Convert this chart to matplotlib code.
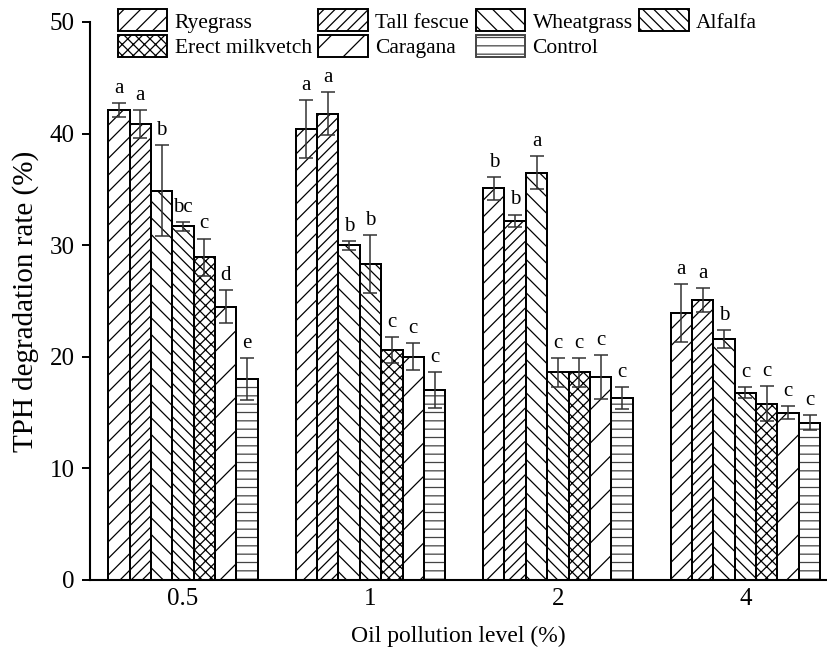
import matplotlib
matplotlib.use('Agg')
import matplotlib.pyplot as plt
import numpy as np

plt.rcParams['font.family'] = ['Liberation Serif', 'DejaVu Serif']
plt.rcParams['hatch.linewidth'] = 0.9

#Data: TPH degradation rate (%) for each plant at each oil pollution level
levels = ['0.5', '1', '2', '4']
plants = ['Ryegrass', 'Tall fescue', 'Wheatgrass', 'Alfalfa',
          'Erect milkvetch', 'Caragana', 'Control']

ryegrass = [42.1, 40.4, 35.1, 23.9]
tall_fescue = [40.9, 41.8, 32.2, 25.1]
wheatgrass = [34.9, 30.0, 36.5, 21.6]
alfalfa = [31.7, 28.3, 18.6, 16.8]
erect_milkvetch = [28.9, 20.6, 18.6, 15.8]
caragana = [24.5, 20.0, 18.2, 15.0]
control = [18.0, 17.0, 16.3, 14.1]

ryegrass_err = [0.6, 2.6, 1.05, 2.6]
tall_fescue_err = [1.25, 1.9, 0.55, 1.05]
wheatgrass_err = [4.1, 0.4, 1.5, 0.8]
alfalfa_err = [0.4, 2.6, 1.3, 0.5]
erect_milkvetch_err = [1.7, 1.2, 1.3, 1.55]
caragana_err = [1.45, 1.2, 1.95, 0.6]
control_err = [1.85, 1.6, 0.95, 0.65]

ryegrass_sig = ['a', 'a', 'b', 'a']
tall_fescue_sig = ['a', 'a', 'b', 'a']
wheatgrass_sig = ['b', 'b', 'a', 'b']
alfalfa_sig = ['bc', 'b', 'c', 'c']
erect_milkvetch_sig = ['c', 'c', 'c', 'c']
caragana_sig = ['d', 'c', 'c', 'c']
control_sig = ['e', 'c', 'c', 'c']

means = [ryegrass, tall_fescue, wheatgrass, alfalfa, erect_milkvetch, caragana, control]
errs = [ryegrass_err, tall_fescue_err, wheatgrass_err, alfalfa_err,
        erect_milkvetch_err, caragana_err, control_err]
sigs = [ryegrass_sig, tall_fescue_sig, wheatgrass_sig, alfalfa_sig,
        erect_milkvetch_sig, caragana_sig, control_sig]
hatches = ['//', '///', '\\\\', '\\\\\\', 'xxx', '/', '--']

fig = plt.figure(figsize=(8.28, 6.47), dpi=100)
# axes from x=90..826 px, y=22..580 px
ax = fig.add_axes([90 / 828, 67 / 647, 736 / 828, 558 / 647])

x = np.arange(len(levels))
width = 0.114
bars = []
for i in range(len(plants)):
    pos = x + (i - 3) * width
    hc = '#444444' if hatches[i] == '--' else 'black'
    b = ax.bar(pos, means[i], width, color='white', edgecolor=hc, hatch=hatches[i],
               linewidth=1.4, label=plants[i], zorder=2)
    # outline in black on top of the hatch color
    ax.bar(pos, means[i], width, color='none', edgecolor='black', linewidth=1.4, zorder=3)
    bars.append(b)
    ax.errorbar(pos, means[i], yerr=errs[i], fmt='none', ecolor='#333333',
                elinewidth=1.1, capsize=5, capthick=1.1, zorder=4)
    for j in range(len(levels)):
        ax.text(pos[j], means[i][j] + errs[i][j] + 0.45, sigs[i][j],
                ha='center', va='bottom', fontsize=15)

ax.set_xlim(-0.496, 3.43)
ax.set_ylim(0, 50)
ax.set_xticks(x)
ax.set_xticklabels(levels)
ax.set_yticks([0, 10, 20, 30, 40, 50])
ax.tick_params(axis='x', length=0, labelsize=18, pad=6)
ax.tick_params(axis='y', direction='out', length=6, width=1.4, labelsize=18, pad=5)
ax.spines['top'].set_visible(False)
ax.spines['right'].set_visible(False)
ax.spines['left'].set_linewidth(1.5)
ax.spines['bottom'].set_linewidth(1.5)
ax.set_xlabel('Oil pollution level (%)', fontsize=17, labelpad=11)
ax.set_ylabel('TPH degradation rate (%)', fontsize=21, labelpad=8)

#Legend laid out row by row: 4 columns, 2 rows
order = [0, 4, 1, 5, 2, 6, 3]
ax.legend([bars[k] for k in order], [plants[k] for k in order], ncol=4,
          loc='upper left', bbox_to_anchor=(0.02, 1.046), frameon=False,
          fontsize=15.5, handlelength=2.3, handleheight=1.2, handletextpad=0.35,
          columnspacing=0.3, labelspacing=0.1, borderpad=0.1)

fig.savefig('out.png', dpi=100)
